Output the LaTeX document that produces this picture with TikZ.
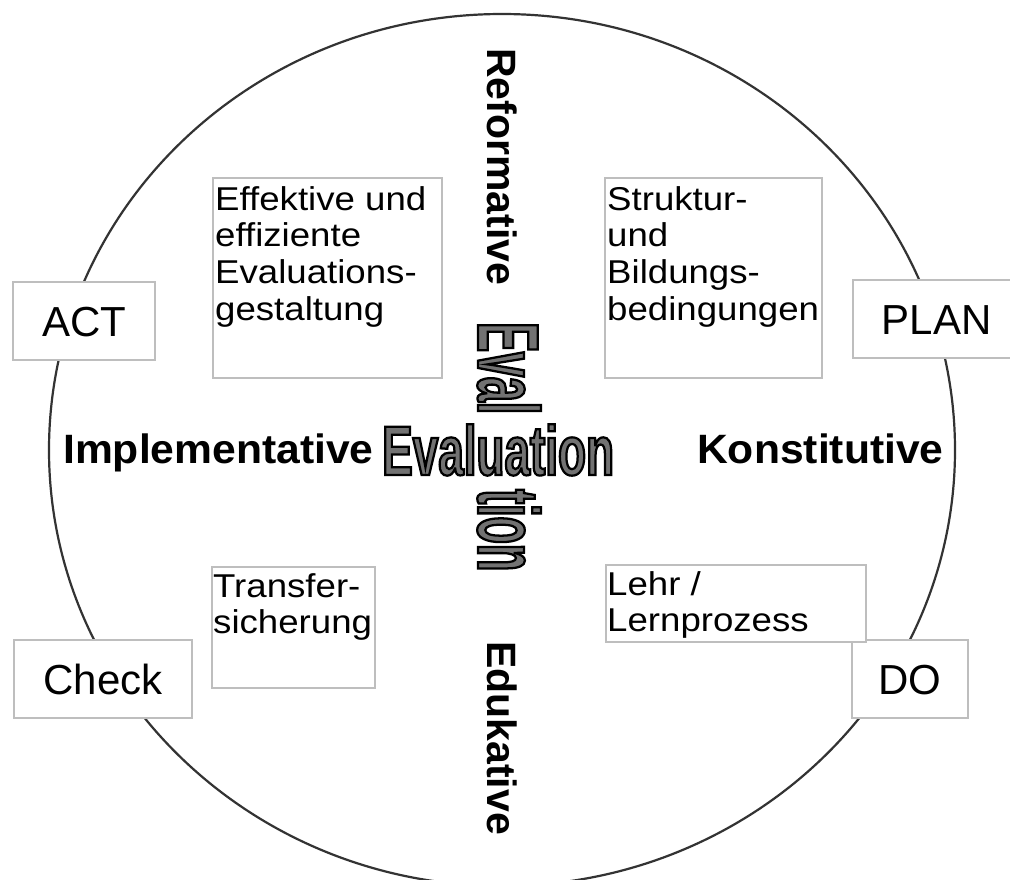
\documentclass[tikz,border=0pt]{standalone}
\usepackage{fontspec}
\setmainfont{Liberation Sans}
\newfontfamily\boxfont{Liberation Sans}[FakeStretch=1.11]
\newfontfamily\dimfont{Liberation Sans}[FakeStretch=1.04]
\newfontfamily\evhfont{Liberation Sans Bold}[FakeStretch=0.655, FakeBold=3.2]
\newfontfamily\evvfont{Liberation Sans Bold}[FakeStretch=0.514, FakeBold=2.6]
\newcommand\blackstroke{\special{pdf:literal direct 0 0 0 RG}}
\definecolor{evgray}{HTML}{727272}
\definecolor{boxgray}{HTML}{BEBEBE}
\definecolor{ringgray}{HTML}{333333}
\begin{document}
\begin{tikzpicture}[x=1pt,y=-1pt,
  ring/.style={draw=ringgray, line width=2.2pt},
  pdcabox/.style={draw=boxgray, line width=1.3pt, fill=white, inner sep=0pt,
     minimum height=78pt, text height=30pt, text depth=0pt,
     font=\fontsize{42}{48}\selectfont},
  notebox/.style={draw=boxgray, line width=1.3pt, fill=white, inner sep=0pt},
  note/.style={font=\boxfont\fontsize{33}{36.7}\selectfont, inner sep=0pt, anchor=base west},
  dimh/.style={font=\dimfont\bfseries\fontsize{41}{48}\selectfont, inner sep=0pt, anchor=base west},
  dimv/.style={font=\bfseries\fontsize{41}{48}\selectfont, inner sep=0pt, anchor=base west, rotate=-90},
  evh/.style={font=\evhfont\fontsize{70}{80}\selectfont, inner sep=0pt, anchor=base west},
  evv/.style={font=\evvfont\fontsize{87}{96}\selectfont, inner sep=0pt, anchor=base west, rotate=-90}
]
\useasboundingbox (0,0) rectangle (1010,879);
\clip (0,0) rectangle (1010,879);
\fill[white] (0,0) rectangle (1010,879);

% ring
\draw[ring] (502,450) ellipse [x radius=453, y radius=436];

% PDCA boxes
\node[pdcabox, minimum width=142pt] (act) at (84,321) {ACT};
\node[pdcabox, minimum width=167pt] (plan) at (936.5,319) {PLAN};
\node[pdcabox, minimum width=178pt] (check) at (103,679) {Check};
\node[pdcabox, minimum width=116pt] (do) at (910,679) {DO};

% note boxes
\node[notebox, minimum width=229pt, minimum height=200pt] (effbox) at (327.5,278) {};
\node[notebox, minimum width=217pt, minimum height=200pt] (strbox) at (713.5,278) {};
\node[notebox, minimum width=163pt, minimum height=121pt] (trabox) at (293.5,627.5) {};
\node[notebox, minimum width=260pt, minimum height=77pt] (lehbox) at (736,603.5) {};

\node[note] (efft) at (215,210) {\vtop{\hbox{Effektive und}\hbox{effiziente}\hbox{Evaluations-}\hbox{gestaltung}}};
\node[note] (strt) at (607,210) {\vtop{\hbox{Struktur-}\hbox{und}\hbox{Bildungs-}\hbox{bedingungen}}};
\node[note] (trat) at (213,597) {\vtop{\hbox{Transfer-}\hbox{sicherung}}};
\node[note] (leht) at (607,595) {\vtop{\hbox{Lehr /}\hbox{Lernprozess}}};

% dimension labels
\node[dimh] (impl) at (63,463) {Implementative};
\node[dimh] (konst) at (697,463) {Konstitutive};
\node[dimv] (reform) at (487,48) {Reformative};
\node[dimv] (eduk) at (487,641) {Edukative};

% Evaluation crossword
\node[evv] (evtop) at (478,322) {\textcolor{evgray}{\blackstroke Eval}};
\node[evv] (evbot) at (478,489) {\textcolor{evgray}{\blackstroke tion}};
\node[evh] (evmid) at (382,475) {\textcolor{evgray}{\blackstroke Evaluation}};
\end{tikzpicture}
\end{document}
